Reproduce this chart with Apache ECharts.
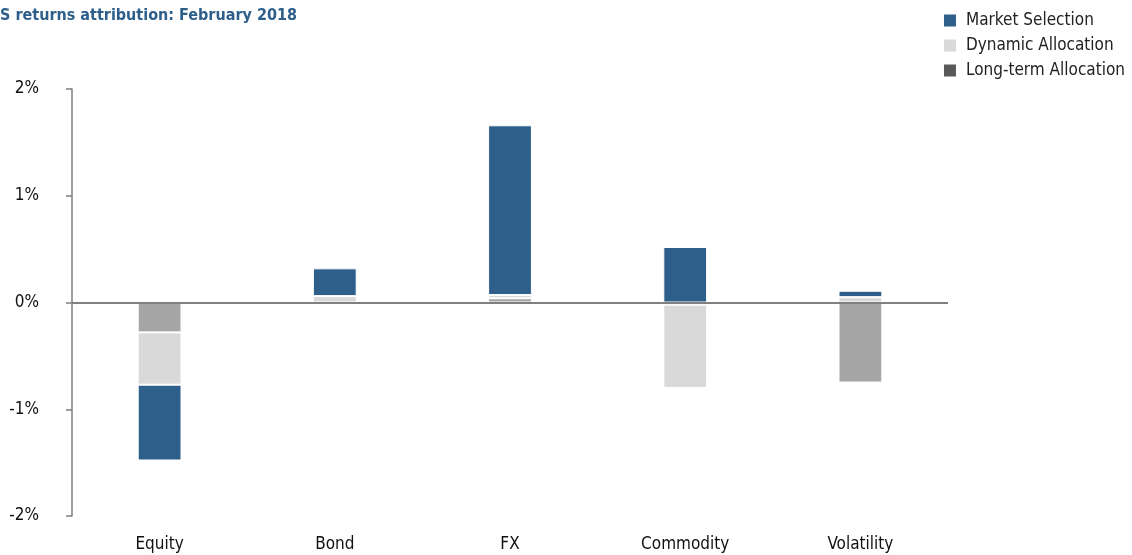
<!DOCTYPE html>
<html><head><meta charset="utf-8">
<script src="https://cdn.jsdelivr.net/npm/echarts@6/dist/echarts.min.js"></script>
<style>html,body{margin:0;padding:0;background:#fff}#c{width:1132px;height:555px}</style>
</head><body><div id="c"></div>
<script>
const categories = ['Equity', 'Bond', 'FX', 'Commodity', 'Volatility'];
const marketSelection = [-0.71, 0.26, 1.59, 0.52, 0.06];
const dynamicAllocation = [-0.49, 0.06, 0.03, -0.78, 0.05];
const longTermAllocation = [-0.28, 0, 0.04, -0.02, -0.75];
const yTicks = [-2, -1, 0, 1, 2];

const FONT = '"Liberation Sans Narrow", "DejaVu Sans Condensed", sans-serif';
const chart = echarts.init(document.getElementById('c'));
const border = {borderColor: '#ffffff', borderWidth: 1};
chart.setOption({
  animation: false,
  textStyle: {fontFamily: FONT},
  title: {
    text: 'S returns attribution: February 2018',
    left: 0, top: 8, padding: 0,
    textStyle: {fontFamily: FONT, fontWeight: 'bold', fontSize: 16, color: '#2d5f8a'}
  },
  legend: {
    orient: 'vertical', right: 2, top: 7, itemGap: 8,
    itemWidth: 14, itemHeight: 14, icon: 'rect',
    textStyle: {fontFamily: FONT, fontSize: 17, color: '#222', padding: [0, 0, 0, 4]},
    data: [
      {name: 'Market Selection', itemStyle: {color: '#2d5f8a'}},
      {name: 'Dynamic Allocation', itemStyle: {color: '#d9d9d9'}},
      {name: 'Long-term Allocation', itemStyle: {color: '#595959'}}
    ]
  },
  grid: {left: 72, right: 184, top: 89, bottom: 39},
  xAxis: {
    type: 'category', data: categories,
    axisLine: {show: false}, axisTick: {show: false},
    axisLabel: {fontFamily: FONT, fontSize: 17, color: '#111', margin: 20}
  },
  yAxis: {
    type: 'value', min: yTicks[0], max: yTicks[yTicks.length - 1], interval: 1,
    splitLine: {show: false},
    axisLine: {show: true, lineStyle: {color: '#7f7f7f', width: 1.5}},
    axisTick: {show: true, length: 6, lineStyle: {color: '#7f7f7f', width: 1.5}},
    axisLabel: {fontFamily: FONT, fontSize: 17, color: '#111', margin: 33,
      formatter: v => v + '%'}
  },
  series: [
    {name: 'Long-term Allocation', type: 'bar', stack: 's', barWidth: '25%',
      data: longTermAllocation, itemStyle: Object.assign({color: '#a6a6a6'}, border),
      markLine: {silent: true, symbol: 'none', label: {show: false},
        lineStyle: {color: '#808080', width: 2, type: 'solid'},
        data: [{yAxis: 0}], z: 10}},
    {name: 'Dynamic Allocation', type: 'bar', stack: 's',
      data: dynamicAllocation, itemStyle: Object.assign({color: '#d9d9d9'}, border)},
    {name: 'Market Selection', type: 'bar', stack: 's',
      data: marketSelection, itemStyle: Object.assign({color: '#2d5f8a'}, border)}
  ]
});
</script></body></html>
